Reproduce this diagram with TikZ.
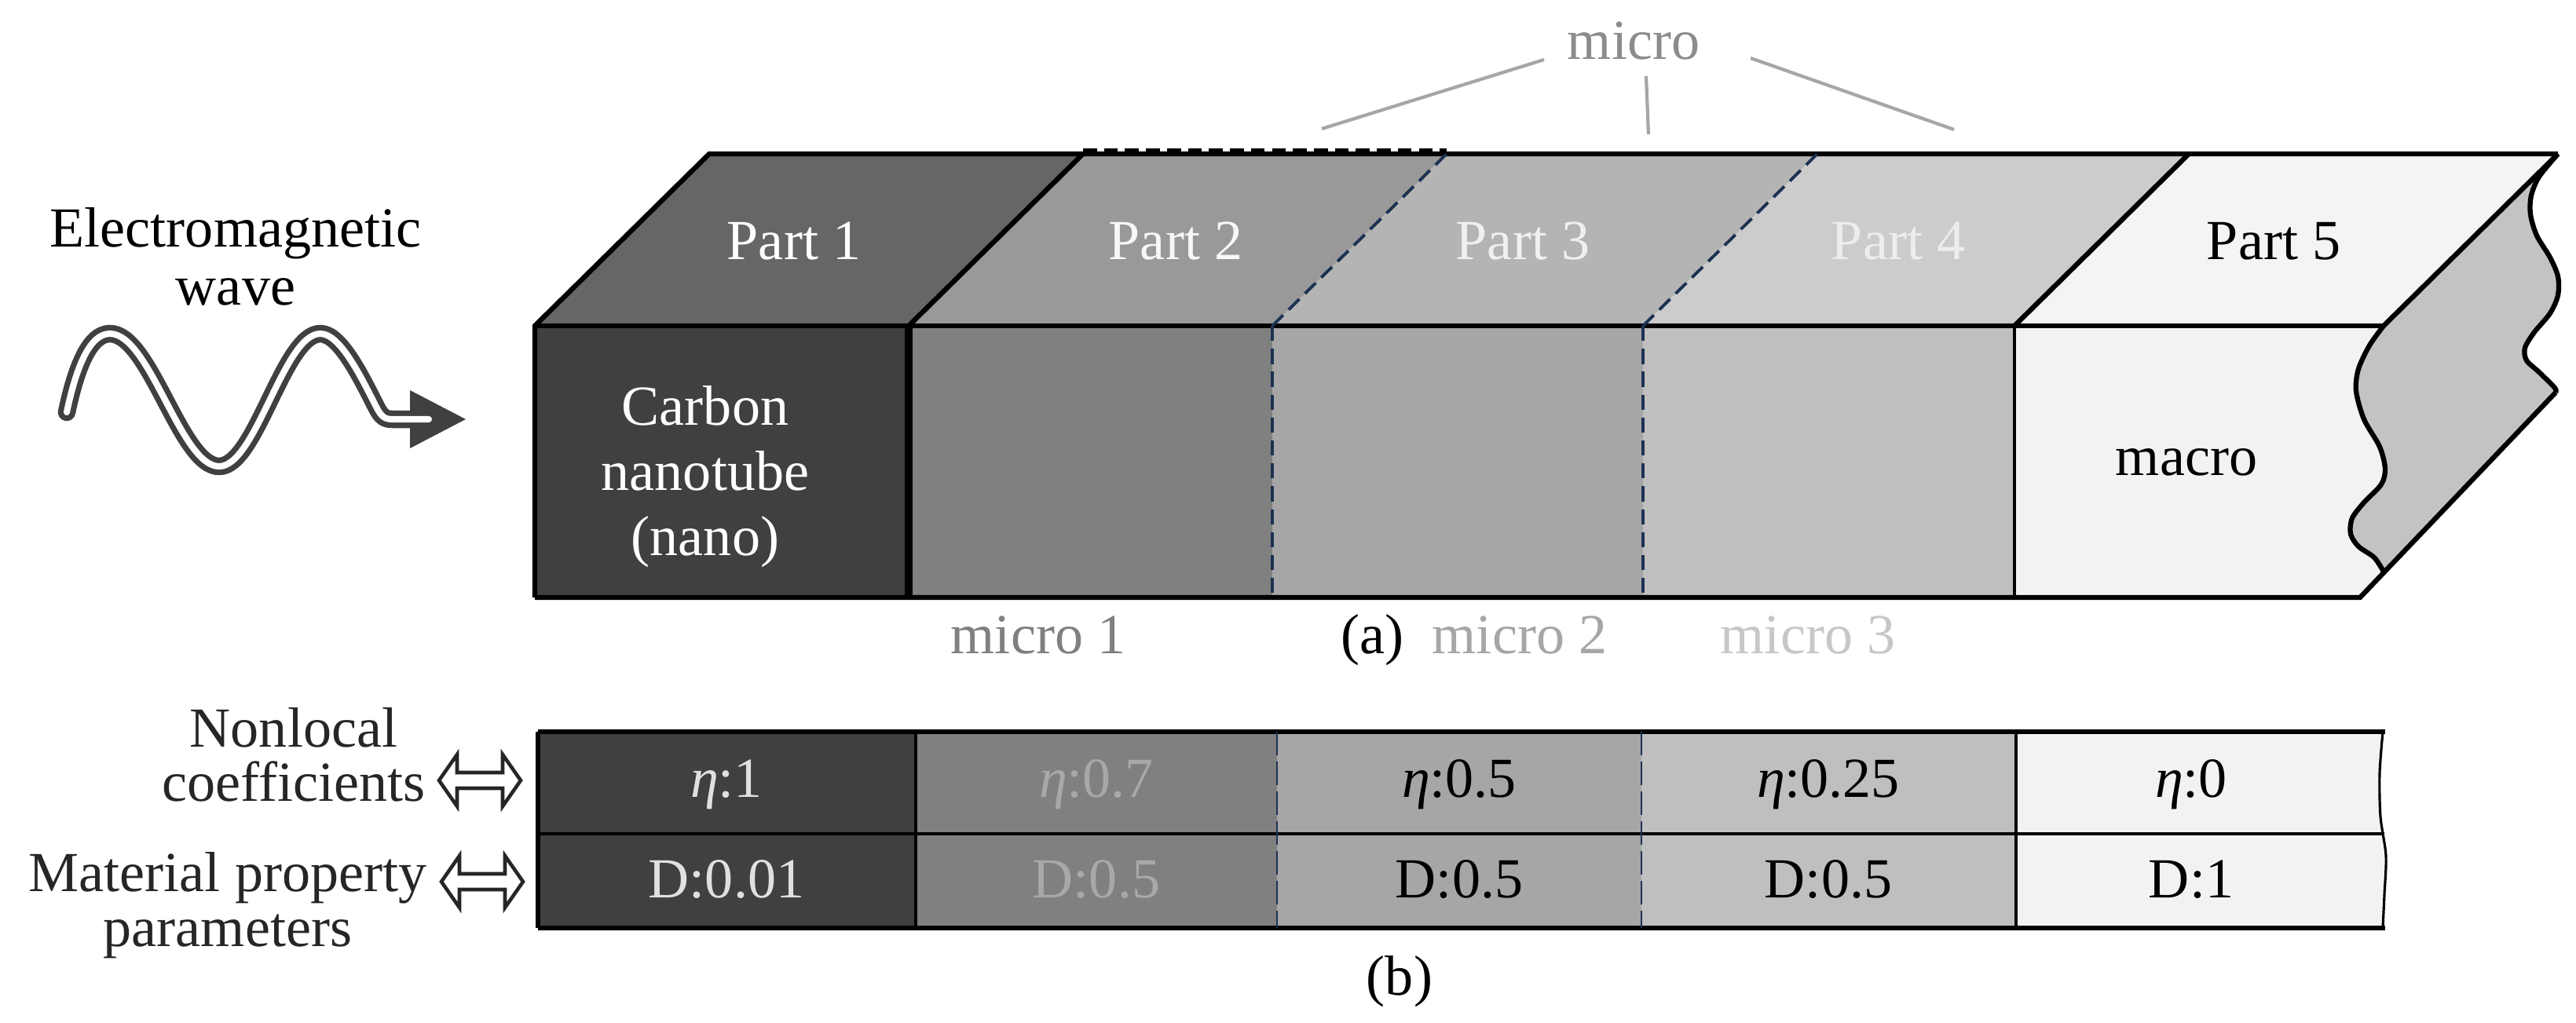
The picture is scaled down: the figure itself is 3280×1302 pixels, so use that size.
\documentclass[tikz,border=0pt]{standalone}
\usepackage{fontspec}
\setmainfont{Liberation Serif}
\definecolor{poneF}{HTML}{404040}
\definecolor{poneT}{HTML}{666666}
\definecolor{ptwoF}{HTML}{808080}
\definecolor{ptwoT}{HTML}{999999}
\definecolor{pthreeF}{HTML}{A6A6A6}
\definecolor{pthreeT}{HTML}{B4B4B4}
\definecolor{pfourF}{HTML}{BFBFBF}
\definecolor{pfourT}{HTML}{CCCCCC}
\definecolor{pfiveF}{HTML}{F2F2F2}
\definecolor{pfiveT}{HTML}{F4F4F4}
\definecolor{sideC}{HTML}{C3C3C3}
\definecolor{navyC}{HTML}{1C3252}
\definecolor{waveC}{HTML}{404040}
\definecolor{microC}{HTML}{8C8C8C}
\definecolor{microL}{HTML}{A6A6A6}
\definecolor{labC}{HTML}{262626}
\begin{document}
\begin{tikzpicture}[x=0.01cm,y=-0.01cm,
  txt/.style={font=\fontsize{20.5}{23}\selectfont, inner sep=0pt, anchor=base},
  edgeline/.style={line width=1.8pt, line join=miter, line cap=butt},
  midline/.style={line width=1.2pt},
  thinline/.style={line width=0.9pt},
  navydash/.style={draw=navyC, line width=1.1pt, dash pattern=on 5.5pt off 2.8pt},
  navydashb/.style={draw=navyC, line width=0.7pt, dash pattern=on 8.5pt off 2.3pt},
  hollowarrow/.style={draw=labC, line width=1.3pt, fill=white, line join=miter},
  microline/.style={draw=microL, line width=1.2pt},
]
\useasboundingbox (0,0) rectangle (3280,1302);

% ---------- coordinates of the block ----------
\coordinate (F0) at (681,415);  \coordinate (G0) at (681,761);
\coordinate (F1) at (1157,415); \coordinate (G1) at (1157,761);
\coordinate (F2) at (1620,415); \coordinate (G2) at (1620,761);
\coordinate (F3) at (2092,415); \coordinate (G3) at (2092,761);
\coordinate (F4) at (2565,415); \coordinate (G4) at (2565,761);
\coordinate (F5) at (3035,415); \coordinate (G5) at (3005,761);
\coordinate (B0) at (903,196);
\coordinate (B1) at (1379,196);
\coordinate (B2) at (1842,196);
\coordinate (B3) at (2314,196);
\coordinate (B4) at (2787,196);
\coordinate (B5) at (3257,196);
\coordinate (BB) at (3254,500);

% ---------- top faces ----------
\fill[poneT]   (F0) -- (B0) -- (B1) -- (F1) -- cycle;
\fill[ptwoT]   (F1) -- (B1) -- (B2) -- (F2) -- cycle;
\fill[pthreeT] (F2) -- (B2) -- (B3) -- (F3) -- cycle;
\fill[pfourT]  (F3) -- (B3) -- (B4) -- (F4) -- cycle;
\fill[pfiveT]  (F4) -- (B4) -- (B5) -- (F5) -- cycle;

% ---------- front faces ----------
\fill[poneF]   (F0) rectangle (G1);
\fill[ptwoF]   (F1) rectangle (G2);
\fill[pthreeF] (F2) rectangle (G3);
\fill[pfourF]  (F3) rectangle (G4);
\fill[pfiveF]  (F4) -- plot[smooth] coordinates {(3035,415) (3017,440) (3003,470) (3000,498) (3010,534) (3030,569) (3037,597) (3032,617) (3010,640) (2995,660) (2993,680) (3003,696) (3023,710) (3035,728)} -- (G5) -- (G4) -- cycle;

% ---------- right (cut) face ----------
\fill[sideC] plot[smooth] coordinates {(3035,415) (3017,440) (3003,470) (3000,498) (3010,534) (3030,569) (3037,597) (3032,617) (3010,640) (2995,660) (2993,680) (3003,696) (3023,710) (3035,728)}
  -- (BB) -- plot[smooth] coordinates {(3254,500) (3253,494) (3233,474) (3217,459) (3215,443) (3227,423) (3247,399) (3257,376) (3257,352) (3247,328) (3230,300) (3222,273) (3223,249) (3233,225) (3257,196)} -- cycle;

% ---------- outlines ----------
\draw[thinline, dash pattern=on 5pt off 2.6pt] (1379,191) -- (1842,191);
\draw[edgeline] (G0) -- (F0) -- (B0) -- (B5);
\draw[edgeline] (F0) -- (F5);
\draw[edgeline] (G0) -- (G5) -- (BB);
\draw[edgeline] (F5) -- (B5);
\draw[edgeline, line join=round] plot[smooth] coordinates {(3035,415) (3017,440) (3003,470) (3000,498) (3010,534) (3030,569) (3037,597) (3032,617) (3010,640) (2995,660) (2993,680) (3003,696) (3023,710) (3035,728)};
\draw[edgeline, line join=round] plot[smooth] coordinates {(3254,500) (3253,494) (3233,474) (3217,459) (3215,443) (3227,423) (3247,399) (3257,376) (3257,352) (3247,328) (3230,300) (3222,273) (3223,249) (3233,225) (3257,196)};
\draw[line width=2.6pt] (F1) -- (G1);
\draw[edgeline] (F1) -- (B1);
\draw[midline] (F4) -- (G4);
\draw[edgeline] (F4) -- (B4);
\draw[navydash] (F2) -- (G2);
\draw[navydash] (F2) -- (B2);
\draw[navydash] (F3) -- (G3);
\draw[navydash] (F3) -- (B3);

% ---------- block texts ----------
\node[txt, white] (p1) at (1011,330) {Part 1};
\node[txt, white!97!black] (p2) at (1497,330) {Part 2};
\node[txt, white!94!black] (p3) at (1939,330) {Part 3};
\node[txt, white!93!black] (p4) at (2417,330) {Part 4};
\node[txt, black] (p5) at (2895,330) {Part 5};
\node[txt, white, align=center, font=\fontsize{20.5}{23.6}\selectfont] (cnt) at (898,707) {Carbon\\nanotube\\(nano)};
\node[txt, black] (macro) at (2784,605) {macro};

% ---------- micro label and its lines ----------
\node[txt, microC] (micro) at (2080,75) {micro};
\coordinate (mla) at (1966,76);  \coordinate (mlb) at (1683,164);
\coordinate (mma) at (2096,97);  \coordinate (mmb) at (2099,171);
\coordinate (mra) at (2229,74);  \coordinate (mrb) at (2488,165);
\draw[microline] (mla) -- (mlb);
\draw[microline] (mma) -- (mmb);
\draw[microline] (mra) -- (mrb);

% ---------- labels under the block ----------
\node[txt, color=ptwoF] (m1) at (1322,832) {micro 1};
\node[txt, black] (la) at (1747,832) {(a)};
\node[txt, color=pthreeF] (m2) at (1935,832) {micro 2};
\node[txt, color=white!78!black] (m3) at (2302,832) {micro 3};

% ---------- electromagnetic wave ----------
\node[txt, black, align=center, font=\fontsize{20.5}{20.8}\selectfont] (em) at (300,388) {Electromagnetic\\wave};
\draw[waveC, line width=6.4pt, line cap=round, line join=round]
  (85,525) .. controls (97,468) and (114,425) .. (140,425)
  .. controls (191,425) and (230,594) .. (279,594)
  .. controls (326,594) and (361,425) .. (408,425)
  .. controls (434,425) and (462,485) .. (480,520)
  .. controls (486,531) and (490,534) .. (500,534) -- (540,534);
\coordinate (wtip) at (593,534);
\fill[waveC] (522,497) -- (wtip) -- (522,571) -- cycle;
\draw[white, line width=2.3pt, line cap=round, line join=round]
  (85,525) .. controls (97,468) and (114,425) .. (140,425)
  .. controls (191,425) and (230,594) .. (279,594)
  .. controls (326,594) and (361,425) .. (408,425)
  .. controls (434,425) and (462,485) .. (480,520)
  .. controls (486,531) and (490,534) .. (500,534) -- (546,534);

% ---------- table (b) ----------
\fill[poneF]   (685,932) rectangle (1166,1182);
\fill[ptwoF]   (1166,932) rectangle (1626,1182);
\fill[pthreeF] (1626,932) rectangle (2090,1182);
\fill[pfourF]  (2090,932) rectangle (2567,1182);
\fill[pfiveF]  (2567,932) -- plot[smooth] coordinates {(3034,932) (3030,985) (3031,1040) (3038,1090) (3036,1140) (3034,1182)} -- (2567,1182) -- cycle;
\draw[line width=1.9pt] (685,932) -- (3037,932);
\draw[line width=1.9pt] (685,1182) -- (3037,1182);
\draw[line width=1.9pt] (685,932) -- (685,1182);
\draw[midline] (685,1062) -- (3036,1062);
\draw[thinline] (1166,932) -- (1166,1182);
\draw[thinline] (2567,932) -- (2567,1182);
\draw[navydashb] (1626,932) -- (1626,1182);
\draw[navydashb] (2090,932) -- (2090,1182);
\draw[thinline] plot[smooth] coordinates {(3034,932) (3030,985) (3031,1040) (3038,1090) (3036,1140) (3034,1182)};

\node[txt, color=white!88!black] (e1) at (925,1015) {\textit{η}:1};
\node[txt, color=white!66!black] (e2) at (1396,1015) {\textit{η}:0.7};
\node[txt, black] (e3) at (1858,1015) {\textit{η}:0.5};
\node[txt, black] (e4) at (2328,1015) {\textit{η}:0.25};
\node[txt, black] (e5) at (2790,1015) {\textit{η}:0};
\node[txt, color=white!88!black] (d1) at (925,1143) {D:0.01};
\node[txt, color=white!66!black] (d2) at (1396,1143) {D:0.5};
\node[txt, black] (d3) at (1858,1143) {D:0.5};
\node[txt, black] (d4) at (2328,1143) {D:0.5};
\node[txt, black] (d5) at (2790,1143) {D:1};

% ---------- row labels ----------
\node[txt, labC, align=center, font=\fontsize{20.5}{19.35}\selectfont] (nl) at (374,1020) {Nonlocal\\coefficients};
\node[txt, labC, align=center, font=\fontsize{20.5}{19.9}\selectfont] (mp) at (290,1205) {Material property\\parameters};
\draw[hollowarrow] (559,994) -- (582,961) -- (582,984) -- (640,984) -- (640,961) -- (663,994) -- (640,1027) -- (640,1004) -- (582,1004) -- (582,1027) -- cycle;
\draw[hollowarrow] (562,1123) -- (585,1090) -- (585,1113) -- (643,1113) -- (643,1090) -- (666,1123) -- (643,1156) -- (643,1133) -- (585,1133) -- (585,1156) -- cycle;
\node[txt, black] (lb) at (1782,1267) {(b)};
\end{tikzpicture}
\end{document}
